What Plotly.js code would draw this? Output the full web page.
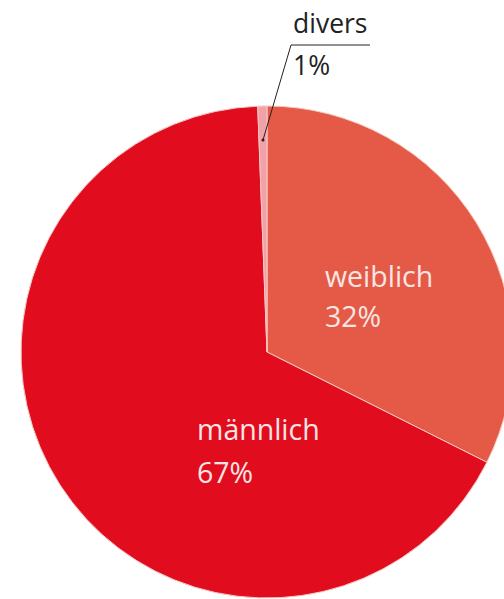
<!DOCTYPE html>
<html>
<head>
<meta charset="utf-8">
<script src="https://cdn.plot.ly/plotly-3.0.1.min.js"></script>
<style>
  html, body { margin: 0; padding: 0; overflow: hidden; background: #ffffff; }
  #chart { width: 520px; height: 599px; }
</style>
</head>
<body>
<div id="chart"></div>
<script>
// ---- data ----
const categories = ["weiblich", "männlich", "divers"];
const shares = [32.4, 67.0, 0.6];
const sliceColors = ["#E55A46", "#E20C1F", "#F2A1A8"];

// ---- layout helpers (pixels -> paper) ----
const W = 520, H = 599;
const px = x => x / W;
const py = y => 1 - y / H;
const total = shares.reduce((a, b) => a + b, 0);
const pct = shares.map(v => Math.round(v / total * 100) + "%");

const labelFont = { family: "Open Sans, sans-serif", size: 28.5, color: "#F7E6E3" };
const darkFont = { family: "Open Sans, sans-serif", size: 26.5, color: "#222222" };

// label placement (left edge x, line centres y) per category
const labelPos = {
  "weiblich": { x: 323, y1: 276, y2: 316, font: labelFont },
  "männlich": { x: 195, y1: 429, y2: 472, font: labelFont },
  "divers":   { x: 291, y1: 23,  y2: 65,  font: darkFont }
};

const annotations = [];
categories.forEach((c, i) => {
  const p = labelPos[c];
  annotations.push({ xref: "paper", yref: "paper", x: px(p.x), y: py(p.y1), xanchor: "left", yanchor: "middle",
    text: c, showarrow: false, font: p.font, align: "left" });
  annotations.push({ xref: "paper", yref: "paper", x: px(p.x), y: py(p.y2), xanchor: "left", yanchor: "middle",
    text: pct[i], showarrow: false, font: p.font, align: "left" });
});

const shapes = [
  { type: "line", xref: "paper", yref: "paper", x0: px(263), y0: py(140), x1: px(291), y1: py(45), line: { color: "#222", width: 1 } },
  { type: "line", xref: "paper", yref: "paper", x0: px(291), y0: py(45), x1: px(370), y1: py(45), line: { color: "#222", width: 1 } },
  { type: "circle", xref: "paper", yref: "paper", x0: px(261.5), y0: py(138.5), x1: px(264.5), y1: py(141.5), fillcolor: "#222", line: { width: 0 } }
];

const cx = 267, cy = 352, r = 246;
const trace = {
  type: "pie",
  labels: categories,
  values: shares,
  sort: false,
  direction: "clockwise",
  rotation: 0,
  textinfo: "none",
  hoverinfo: "none",
  marker: { colors: sliceColors, line: { color: "#F6C9C2", width: 1 } },
  domain: { x: [px(cx - r), px(cx + r)], y: [py(cy + r), py(cy - r)] },
  showlegend: false
};

Plotly.newPlot("chart", [trace], {
  width: W, height: H,
  margin: { l: 0, r: 0, t: 0, b: 0 },
  paper_bgcolor: "#ffffff",
  showlegend: false,
  annotations: annotations,
  shapes: shapes
}, { staticPlot: true, displayModeBar: false });
</script>
</body>
</html>
